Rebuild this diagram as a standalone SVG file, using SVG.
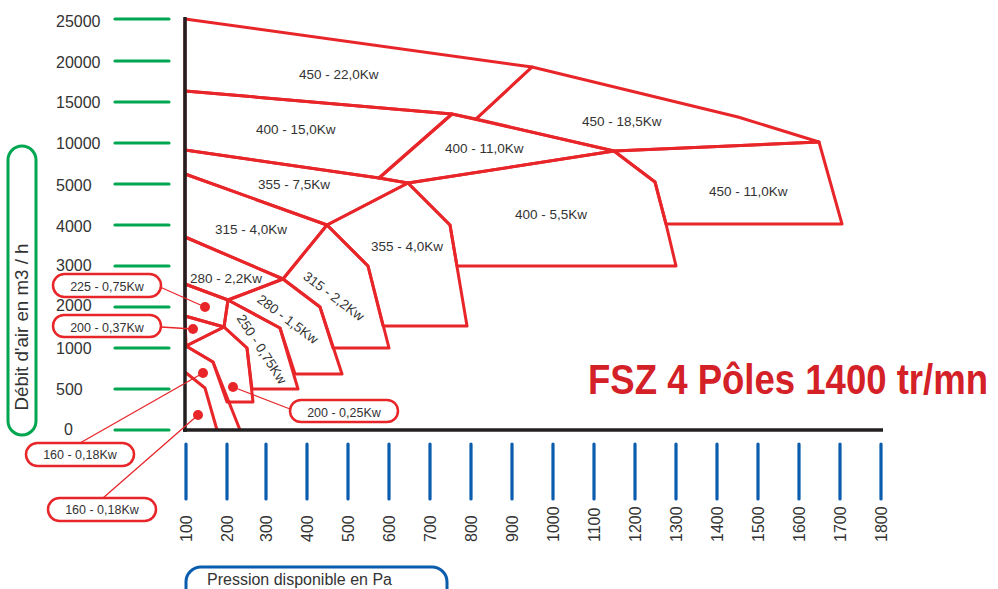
<svg xmlns="http://www.w3.org/2000/svg" width="998" height="589" viewBox="0 0 998 589">
<style>
.t{font-family:"Liberation Sans",Arial,sans-serif;fill:#333;}
.ax{font-size:16px;}
.rl{font-size:13.5px;}
.bl{font-size:12.5px;text-anchor:middle;}
.reg{fill:none;stroke:#e8262a;stroke-width:3;stroke-linejoin:round;}
.gt{stroke:#00a650;stroke-width:3.2;stroke-linecap:round;}
.bt{stroke:#0a5cad;stroke-width:3.2;stroke-linecap:round;}
.box{fill:#fff;stroke:#e8262a;stroke-width:2.5;}
.ld{stroke:#e8262a;stroke-width:1.3;fill:none;}
.dot{fill:#e8262a;}
</style>
<rect width="998" height="589" fill="#fff"/>

<g id="y-axis-ticks">
<line class="gt" x1="115" y1="19" x2="169" y2="19"/>
<line class="gt" x1="115" y1="61" x2="169" y2="61"/>
<line class="gt" x1="115" y1="102" x2="169" y2="102"/>
<line class="gt" x1="115" y1="143" x2="169" y2="143"/>
<line class="gt" x1="115" y1="184" x2="169" y2="184"/>
<line class="gt" x1="115" y1="225" x2="169" y2="225"/>
<line class="gt" x1="115" y1="266" x2="169" y2="266"/>
<line class="gt" x1="115" y1="307" x2="169" y2="307"/>
<line class="gt" x1="115" y1="348" x2="169" y2="348"/>
<line class="gt" x1="115" y1="389" x2="169" y2="389"/>
<line class="gt" x1="115" y1="430" x2="169" y2="430"/>
<text class="t ax" x="56" y="27">25000</text>
<text class="t ax" x="56" y="68">20000</text>
<text class="t ax" x="56" y="108">15000</text>
<text class="t ax" x="56" y="149">10000</text>
<text class="t ax" x="56" y="191">5000</text>
<text class="t ax" x="56" y="232">4000</text>
<text class="t ax" x="56" y="271">3000</text>
<text class="t ax" x="56" y="311">2000</text>
<text class="t ax" x="56" y="354">1000</text>
<text class="t ax" x="56" y="395">500</text>
<text class="t ax" x="64" y="435">0</text>
</g>

<g id="y-axis-title">
<rect x="8" y="146" width="28" height="289" rx="14" fill="none" stroke="#00a650" stroke-width="3"/>
<text class="t" font-size="18" text-anchor="middle" textLength="167" lengthAdjust="spacingAndGlyphs" transform="translate(28,327) rotate(-90)">Débit d'air en m3 / h</text>
</g>

<g id="x-axis-ticks">
<line class="bt" x1="186" y1="444" x2="186" y2="499"/>
<line class="bt" x1="227" y1="444" x2="227" y2="499"/>
<line class="bt" x1="266" y1="444" x2="266" y2="499"/>
<line class="bt" x1="307" y1="444" x2="307" y2="499"/>
<line class="bt" x1="348" y1="444" x2="348" y2="499"/>
<line class="bt" x1="389" y1="444" x2="389" y2="499"/>
<line class="bt" x1="430" y1="444" x2="430" y2="499"/>
<line class="bt" x1="471" y1="444" x2="471" y2="499"/>
<line class="bt" x1="512" y1="444" x2="512" y2="499"/>
<line class="bt" x1="553" y1="444" x2="553" y2="499"/>
<line class="bt" x1="594" y1="444" x2="594" y2="499"/>
<line class="bt" x1="635" y1="444" x2="635" y2="499"/>
<line class="bt" x1="676" y1="444" x2="676" y2="499"/>
<line class="bt" x1="717" y1="444" x2="717" y2="499"/>
<line class="bt" x1="758" y1="444" x2="758" y2="499"/>
<line class="bt" x1="799" y1="444" x2="799" y2="499"/>
<line class="bt" x1="840" y1="444" x2="840" y2="499"/>
<line class="bt" x1="881" y1="444" x2="881" y2="499"/>
<text class="t ax" transform="translate(192,542) rotate(-90)">100</text>
<text class="t ax" transform="translate(233,542) rotate(-90)">200</text>
<text class="t ax" transform="translate(272,542) rotate(-90)">300</text>
<text class="t ax" transform="translate(313,542) rotate(-90)">400</text>
<text class="t ax" transform="translate(354,542) rotate(-90)">500</text>
<text class="t ax" transform="translate(395,542) rotate(-90)">600</text>
<text class="t ax" transform="translate(436,542) rotate(-90)">700</text>
<text class="t ax" transform="translate(477,542) rotate(-90)">800</text>
<text class="t ax" transform="translate(518,542) rotate(-90)">900</text>
<text class="t ax" transform="translate(559,542) rotate(-90)">1000</text>
<text class="t ax" transform="translate(600,542) rotate(-90)">1100</text>
<text class="t ax" transform="translate(641,542) rotate(-90)">1200</text>
<text class="t ax" transform="translate(682,542) rotate(-90)">1300</text>
<text class="t ax" transform="translate(723,542) rotate(-90)">1400</text>
<text class="t ax" transform="translate(764,542) rotate(-90)">1500</text>
<text class="t ax" transform="translate(805,542) rotate(-90)">1600</text>
<text class="t ax" transform="translate(846,542) rotate(-90)">1700</text>
<text class="t ax" transform="translate(887,542) rotate(-90)">1800</text>
</g>

<g id="x-axis-title">
<rect x="186" y="567" width="261" height="40" rx="15" fill="none" stroke="#0a5cad" stroke-width="3"/>
<text class="t" font-size="16" x="207" y="585">Pression disponible en Pa</text>
</g>

<g id="r450-22"><polygon class="reg" points="185,19 532,67 476,119 452,114 185,91"/><text class="t rl" x="299" y="79">450 - 22,0Kw</text></g>
<g id="r450-18"><polygon class="reg" points="532,67 738,117 819,142 614,151 476,119"/><text class="t rl" x="582" y="126">450 - 18,5Kw</text></g>
<g id="r400-15"><polygon class="reg" points="185,91 452,114 379,178 185,150"/><text class="t rl" x="256" y="134">400 - 15,0Kw</text></g>
<g id="r400-11"><polygon class="reg" points="452,114 614,151 408,183 379,178"/><text class="t rl" x="445" y="153">400 - 11,0Kw</text></g>
<g id="r355-75"><polygon class="reg" points="185,150 379,178 408,183 327,225 185,174"/><text class="t rl" x="258" y="189">355 - 7,5Kw</text></g>
<g id="r450-11"><polygon class="reg" points="614,151 819,142 842,224 666,224 655,182"/><text class="t rl" x="709" y="196">450 - 11,0Kw</text></g>
<g id="r400-55"><polygon class="reg" points="408,183 614,151 655,182 666,224 676,266 457,266 450,225"/><text class="t rl" x="515" y="219">400 - 5,5Kw</text></g>
<g id="r315-40"><polygon class="reg" points="185,174 327,225 283,279 185,237"/><text class="t rl" x="215" y="234">315 - 4,0Kw</text></g>
<g id="r355-40"><polygon class="reg" points="408,183 450,225 467,326 383,326 368,266 327,225"/><text class="t rl" x="371" y="251">355 - 4,0Kw</text></g>
<g id="r315-22"><polygon class="reg" points="327,225 368,266 389,348 333,348 320,307 283,279"/><text class="t rl" text-anchor="middle" transform="translate(334,296) rotate(37)" y="5">315 - 2,2Kw</text></g>
<g id="r280-22"><polygon class="reg" points="185,237 283,279 228,300 185,284"/><text class="t rl" x="190" y="283">280 - 2,2Kw</text></g>
<g id="r280-15"><polygon class="reg" points="228,300 283,279 320,307 342,374 295,374 280,328"/><text class="t rl" text-anchor="middle" transform="translate(288,319) rotate(37)" y="5">280 - 1,5Kw</text></g>
<g id="r225-075"><polygon class="reg" points="185,284 228,300 224,327 185,316"/></g>
<g id="r250-075"><polygon class="reg" points="228,300 280,328 298,389 252,389 247,348 224,327"/><text class="t rl" text-anchor="middle" transform="translate(262,349) rotate(57)" y="5">250 - 0,75Kw</text></g>
<g id="r200-037"><polygon class="reg" points="185,316 224,327 186,346"/></g>
<g id="r200-025"><polygon class="reg" points="186,346 224,327 247,348 253,402 227,402 213,362"/></g>
<g id="r160-a"><polyline class="reg" points="186,346 213,362 240,430"/><polyline class="reg" points="185,372 205,388 217,430"/></g>

<g id="axes">
<line x1="185" y1="17" x2="185" y2="432" stroke="#231f20" stroke-width="3.5"/>
<line x1="183" y1="430" x2="883" y2="430" stroke="#231f20" stroke-width="3.5"/>
</g>

<g id="connectors">
<line class="ld" x1="160" y1="287" x2="205" y2="307"/>
<line class="ld" x1="161" y1="327" x2="193" y2="329"/>
<line class="ld" x1="80" y1="443" x2="203" y2="373"/>
<line class="ld" x1="103" y1="498" x2="198" y2="415"/>
<line class="ld" x1="290" y1="409" x2="233" y2="387"/>
<circle class="dot" cx="205" cy="307" r="5"/>
<circle class="dot" cx="193" cy="329" r="5"/>
<circle class="dot" cx="203" cy="373" r="5"/>
<circle class="dot" cx="198" cy="415" r="5"/>
<circle class="dot" cx="233" cy="387" r="5"/>
</g>

<g id="lbl225"><rect class="box" x="53" y="274" width="108" height="23" rx="11.5"/><text class="t bl" x="107" y="291">225 - 0,75Kw</text></g>
<g id="lbl200-037"><rect class="box" x="53" y="315" width="108" height="22" rx="11"/><text class="t bl" x="107" y="332">200 - 0,37Kw</text></g>
<g id="lbl160a"><rect class="box" x="26" y="443" width="108" height="23" rx="11.5"/><text class="t bl" x="80" y="459">160 - 0,18Kw</text></g>
<g id="lbl160b"><rect class="box" x="48" y="498" width="108" height="23" rx="11.5"/><text class="t bl" x="102" y="514">160 - 0,18Kw</text></g>
<g id="lbl200-025"><rect class="box" x="290" y="400" width="108" height="22" rx="11"/><text class="t bl" x="344" y="417">200 - 0,25Kw</text></g>

<g id="title">
<text transform="translate(588,394) scale(0.85,1)" font-family="'Liberation Sans',Arial,sans-serif" font-weight="bold" font-size="43" fill="#d42027">FSZ 4 Pôles 1400 tr/mn</text>
</g>
</svg>
